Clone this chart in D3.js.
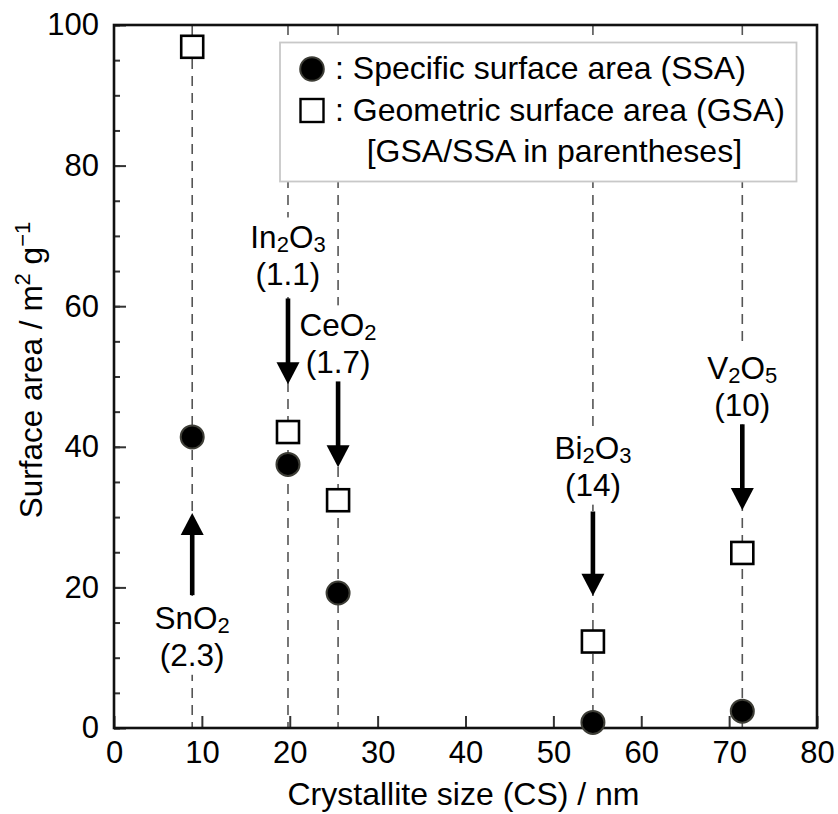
<!DOCTYPE html>
<html>
<head>
<meta charset="utf-8">
<script src="https://cdn.jsdelivr.net/npm/d3@7"></script>
<style>
  html, body { margin: 0; padding: 0; background: #fff; }
  svg { display: block; font-family: "Liberation Sans", Arial, Helvetica, sans-serif; }
</style>
</head>
<body>
<svg id="chart" width="838" height="814"></svg>
<script>
// ---------------- data ----------------
const categories      = ["SnO2", "In2O3", "CeO2", "Bi2O3", "V2O5"];
const crystalliteSize = [8.9, 19.8, 25.5, 54.5, 71.5];   // nm
const ssaValues       = [41.4, 37.5, 19.2, 0.8, 2.4];    // specific surface area, m2/g
const gsaValues       = [96.9, 42.1, 32.4, 12.3, 24.9];  // geometric surface area, m2/g
const ratioLabels     = ["2.3", "1.1", "1.7", "14", "10"]; // GSA/SSA
const arrowTail       = [18.9, 61.1, 49.3, 30.8, 43.2];  // annotation arrows (surface area units)
const arrowTip        = [30.6, 48.9, 37.1, 18.8, 31.0];
const labelAt         = [13.9, 68.0, 55.5, 38.1, 49.5];  // label baseline (surface area units)
const xTicks          = [0, 10, 20, 30, 40, 50, 60, 70, 80];
const yTicks          = [0, 20, 40, 60, 80, 100];
const yMinorTicks     = d3.range(0, 101, 5);
const legendLabels    = [": Specific surface area (SSA)", ": Geometric surface area (GSA)", "[GSA/SSA in parentheses]"];

// ---------------- layout ----------------
(function () {
const svg = d3.select("#chart");
const mLeft = 114, mRight = 817, mTop = 25, mBottom = 728;
const x = d3.scaleLinear().domain([0, 80]).range([mLeft, mRight]);
const y = d3.scaleLinear().domain([0, 100]).range([mBottom, mTop]);
const FS = 31.5, TICK_FS = 31, SUB_FS = 22, LINE_GAP = 37, SUB_DY = 4;

const rows = categories.map((c, i) => ({
  name: c, cs: crystalliteSize[i], ssa: ssaValues[i], gsa: gsaValues[i],
  ratio: ratioLabels[i], tail: arrowTail[i], tip: arrowTip[i], lab: labelAt[i]
}));

// dashed guide lines
svg.append("g").selectAll("line").data(rows).join("line")
  .attr("x1", d => x(d.cs)).attr("x2", d => x(d.cs))
  .attr("y1", y(100)).attr("y2", y(0))
  .attr("stroke", "#555").attr("stroke-width", 1.6)
  .attr("stroke-dasharray", "10,7");

// axes (ticks inward)
const gy = svg.append("g").attr("transform", `translate(${mLeft},0)`)
  .call(d3.axisLeft(y).tickValues(yMinorTicks).tickSize(-6).tickFormat(""));
gy.select(".domain").remove();
gy.selectAll("line").attr("stroke", "#333").attr("stroke-width", 2);

const gy2 = svg.append("g").attr("transform", `translate(${mLeft},0)`)
  .call(d3.axisLeft(y).tickValues(yTicks).tickSize(-12).tickPadding(15).tickFormat(d3.format("d")));
gy2.select(".domain").remove();
gy2.selectAll("line").attr("stroke", "#333").attr("stroke-width", 2);
gy2.selectAll("text").attr("font-size", TICK_FS).attr("font-family", "Liberation Sans, Arial, sans-serif").attr("fill", "#000");

const gx = svg.append("g").attr("transform", `translate(0,${mBottom})`)
  .call(d3.axisBottom(x).tickValues(xTicks).tickSize(-12).tickPadding(13).tickFormat(d3.format("d")));
gx.select(".domain").remove();
gx.selectAll("line").attr("stroke", "#333").attr("stroke-width", 2);
gx.selectAll("text").attr("font-size", TICK_FS).attr("font-family", "Liberation Sans, Arial, sans-serif").attr("fill", "#000");

// frame
svg.append("rect").attr("x", x(0)).attr("y", y(100))
  .attr("width", x(80) - x(0)).attr("height", y(0) - y(100))
  .attr("fill", "none").attr("stroke", "#111").attr("stroke-width", 2.6);

// axis titles
svg.append("text").attr("x", (mLeft + mRight) / 2 - 2).attr("y", 805)
  .attr("text-anchor", "middle").attr("font-size", 32).attr("fill", "#000")
  .text("Crystallite size (CS) / nm");

const yt = svg.append("text").attr("transform", "translate(42,370) rotate(-90)")
  .attr("text-anchor", "middle").attr("font-size", 31.5).attr("fill", "#000");
yt.append("tspan").text("Surface area / m");
yt.append("tspan").attr("font-size", SUB_FS).attr("dy", -12).text("2");
yt.append("tspan").attr("dy", 12).text(" g");
yt.append("tspan").attr("font-size", SUB_FS).attr("dy", -12).text("\u22121");

// annotation labels (one text element, two lines) with white background
function addFormula(textSel, name) {
  const parts = name.match(/[A-Za-z]+|\d+/g);
  let offset = 0;
  parts.forEach(p => {
    const isDigit = /\d/.test(p);
    const t = textSel.append("tspan").text(p);
    if (isDigit) {
      t.attr("font-size", SUB_FS);
      if (offset === 0) { t.attr("dy", SUB_DY); offset = SUB_DY; }
    } else if (offset !== 0) { t.attr("dy", -offset); offset = 0; }
  });
  return offset;
}

const labG = svg.append("g");
rows.forEach(d => {
  const g = labG.append("g");
  const bgRect = g.append("rect").attr("fill", "#fff");
  const t = g.append("text").attr("x", x(d.cs)).attr("y", y(d.lab) - 1.5)
    .attr("text-anchor", "middle").attr("font-size", FS).attr("fill", "#000");
  const off = addFormula(t, d.name);
  t.append("tspan").attr("x", x(d.cs)).attr("dy", LINE_GAP - off).text(`(${d.ratio})`);
  const b = t.node().getBBox();
  bgRect.attr("x", b.x - 3).attr("y", b.y - 2).attr("width", b.width + 6).attr("height", b.height + 4);
});

// arrows
const headLen = 22, headHalf = 11.5;
const arrG = svg.append("g");
rows.forEach(d => {
  const cx = x(d.cs), ya = y(d.tail), yb = y(d.tip);
  const dir = Math.sign(yb - ya);
  arrG.append("line").attr("x1", cx).attr("x2", cx)
    .attr("y1", ya).attr("y2", yb - dir * (headLen - 2))
    .attr("stroke", "#000").attr("stroke-width", 4.6);
  arrG.append("path")
    .attr("d", `M${cx},${yb} L${cx - headHalf},${yb - dir * headLen} L${cx + headHalf},${yb - dir * headLen} Z`)
    .attr("fill", "#000");
});

// markers
const side = 22;
svg.append("g").selectAll("rect").data(rows).join("rect")
  .attr("x", d => x(d.cs) - side / 2).attr("y", d => y(d.gsa) - side / 2)
  .attr("width", side).attr("height", side)
  .attr("fill", "#fff").attr("stroke", "#000").attr("stroke-width", 2.6);
svg.append("g").selectAll("circle").data(rows).join("circle")
  .attr("cx", d => x(d.cs)).attr("cy", d => y(d.ssa)).attr("r", 11.5)
  .attr("fill", "#000").attr("stroke", "#3d3d36").attr("stroke-width", 2);

// legend
const lg = svg.append("g");
lg.append("rect").attr("x", 280).attr("y", 42.5).attr("width", 516.5).attr("height", 139)
  .attr("fill", "#fff").attr("stroke", "#c8c8c8").attr("stroke-width", 1.8);
lg.append("circle").attr("cx", 312).attr("cy", 69).attr("r", 11.8)
  .attr("fill", "#000").attr("stroke", "#3d3d36").attr("stroke-width", 2);
lg.append("rect").attr("x", 312 - 11.5).attr("y", 110.5 - 11.5).attr("width", 23).attr("height", 23)
  .attr("fill", "#fff").attr("stroke", "#000").attr("stroke-width", 2.4);
const legY = [79.3, 120.7, 161.7];
const legX = [335, 335, 366.7];
legendLabels.forEach((s, i) => {
  lg.append("text").attr("x", legX[i]).attr("y", legY[i])
    .attr("font-size", 32).attr("fill", "#000").text(s);
});
})();
</script>
</body>
</html>
